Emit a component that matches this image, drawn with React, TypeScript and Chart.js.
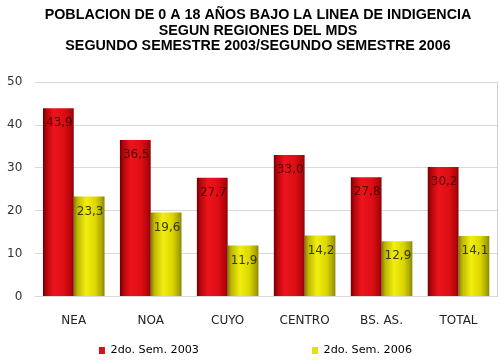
import React, { useEffect, useRef } from "react";
import { Chart, registerables } from "chart.js";

Chart.register(...registerables);

const categories = ["NEA", "NOA", "CUYO", "CENTRO", "BS. AS.", "TOTAL"];
const series2003 = [43.9, 36.5, 27.7, 33.0, 27.8, 30.2];
const series2006 = [23.3, 19.6, 11.9, 14.2, 12.9, 14.1];
const seriesNames = ["2do. Sem. 2003", "2do. Sem. 2006"];
const titleLines = [
  "POBLACION DE 0 A 18 AÑOS BAJO LA LINEA DE INDIGENCIA",
  "SEGUN REGIONES DEL MDS",
  "SEGUNDO SEMESTRE 2003/SEGUNDO SEMESTRE 2006",
];

const FONT = "'DejaVu Sans', sans-serif";

const gradientStops: Record<number, [number, string][]> = {
  0: [
    [0, "#6e0004"],
    [0.12, "#b8060c"],
    [0.35, "#ec141c"],
    [0.7, "#dc0e14"],
    [0.92, "#b0060a"],
    [1, "#8a0206"],
  ],
  1: [
    [0, "#7e7a00"],
    [0.12, "#bdb800"],
    [0.4, "#f2ee10"],
    [0.7, "#dcd800"],
    [0.92, "#a8a400"],
    [1, "#86820a"],
  ],
};

const gradientPlugin = {
  id: "barGradient",
  beforeDatasetsDraw(chart: any) {
    const ctx = chart.ctx;
    chart.data.datasets.forEach((_ds: any, di: number) => {
      const meta = chart.getDatasetMeta(di);
      meta.data.forEach((el: any) => {
        const x0 = el.x - el.width / 2;
        const x1 = el.x + el.width / 2;
        const g = ctx.createLinearGradient(x0, 0, x1, 0);
        gradientStops[di].forEach(([o, c]) => g.addColorStop(o, c));
        el.options.backgroundColor = g;
      });
    });
  },
};

const valueLabelPlugin = {
  id: "valueLabels",
  afterDatasetsDraw(chart: any) {
    const ctx = chart.ctx;
    ctx.save();
    ctx.font = `12px ${FONT}`;
    ctx.textAlign = "center";
    ctx.textBaseline = "middle";
    chart.data.datasets.forEach((ds: any, di: number) => {
      const meta = chart.getDatasetMeta(di);
      meta.data.forEach((el: any, i: number) => {
        const v = ds.data[i];
        ctx.fillStyle = di === 0 ? "rgba(60,0,0,0.85)" : "rgba(40,40,0,0.9)";
        ctx.fillText(v.toFixed(1).replace(".", ","), el.x + 1, el.y + 15);
      });
    });
    ctx.restore();
  },
};

// the reference centres its title and legend slightly right of the canvas centre
const offsetPlugin = {
  id: "boxOffset",
  afterLayout(chart: any) {
    if (chart.titleBlock) chart.titleBlock.left += 25;
    if (chart.legend) chart.legend.left += 20;
  },
};

export default function App() {
  const ref = useRef<HTMLCanvasElement | null>(null);

  useEffect(() => {
    if (!ref.current) return;
    const legendPad = "\u00a0".repeat(27);
    const chart = new Chart(ref.current, {
      type: "bar",
      data: {
        labels: categories,
        datasets: [
          {
            label: seriesNames[0],
            data: series2003,
            backgroundColor: () => "#e0101a",
            borderWidth: 0,
          },
          {
            label: seriesNames[1],
            data: series2006,
            backgroundColor: () => "#e6e200",
            borderWidth: 0,
          },
        ],
      },
      options: {
        animation: false,
        responsive: false,
        maintainAspectRatio: false,
        datasets: {
          bar: { categoryPercentage: 0.8, barPercentage: 1.0 },
        },
        layout: { padding: { left: -6, right: 5, top: 0, bottom: -2 } },
        plugins: {
          title: {
            display: true,
            text: titleLines,
            color: "#000",
            font: { family: "'Liberation Sans', Arial, sans-serif", size: 14.3, weight: "bold", lineHeight: 1.1 },
            padding: { top: 7, bottom: 28 },
          },
          legend: {
            position: "bottom",
            labels: {
              color: "#222",
              font: { family: FONT, size: 11.2 },
              boxWidth: 6,
              boxHeight: 7,
              padding: 17,
              generateLabels: (c: any) =>
                c.data.datasets.map((ds: any, i: number) => ({
                  text: i === 0 ? ds.label + legendPad : ds.label,
                  fillStyle: i === 0 ? "#d8101a" : "#e6e200",
                  strokeStyle: "transparent",
                  lineWidth: 0,
                  datasetIndex: i,
                  hidden: false,
                })),
            },
          },
          tooltip: { enabled: false },
        },
        scales: {
          x: {
            grid: { display: false, drawTicks: true, tickLength: 17 },
            border: { display: false },
            ticks: { color: "#222", font: { family: FONT, size: 12 }, padding: 0 },
          },
          y: {
            min: 0,
            max: 50,
            ticks: { stepSize: 10, color: "#333", font: { family: FONT, size: 12 }, padding: 13 },
            grid: { color: "#d9d9d9", lineWidth: 1, drawTicks: false },
            border: { display: false },
          },
          y2: {
            position: "right",
            min: 0,
            max: 50,
            ticks: { display: false },
            grid: { display: false, drawTicks: false },
            border: { display: true, color: "#cfcfcf" },
          },
        },
      },
      plugins: [gradientPlugin, valueLabelPlugin, offsetPlugin],
    } as any);
    return () => chart.destroy();
  }, []);

  return (
    <div style={{ position: "fixed", left: 0, top: 0, width: 502, height: 364, background: "#fff" }}>
      <canvas ref={ref} width={502} height={364} style={{ width: 502, height: 364 }} />
    </div>
  );
}
